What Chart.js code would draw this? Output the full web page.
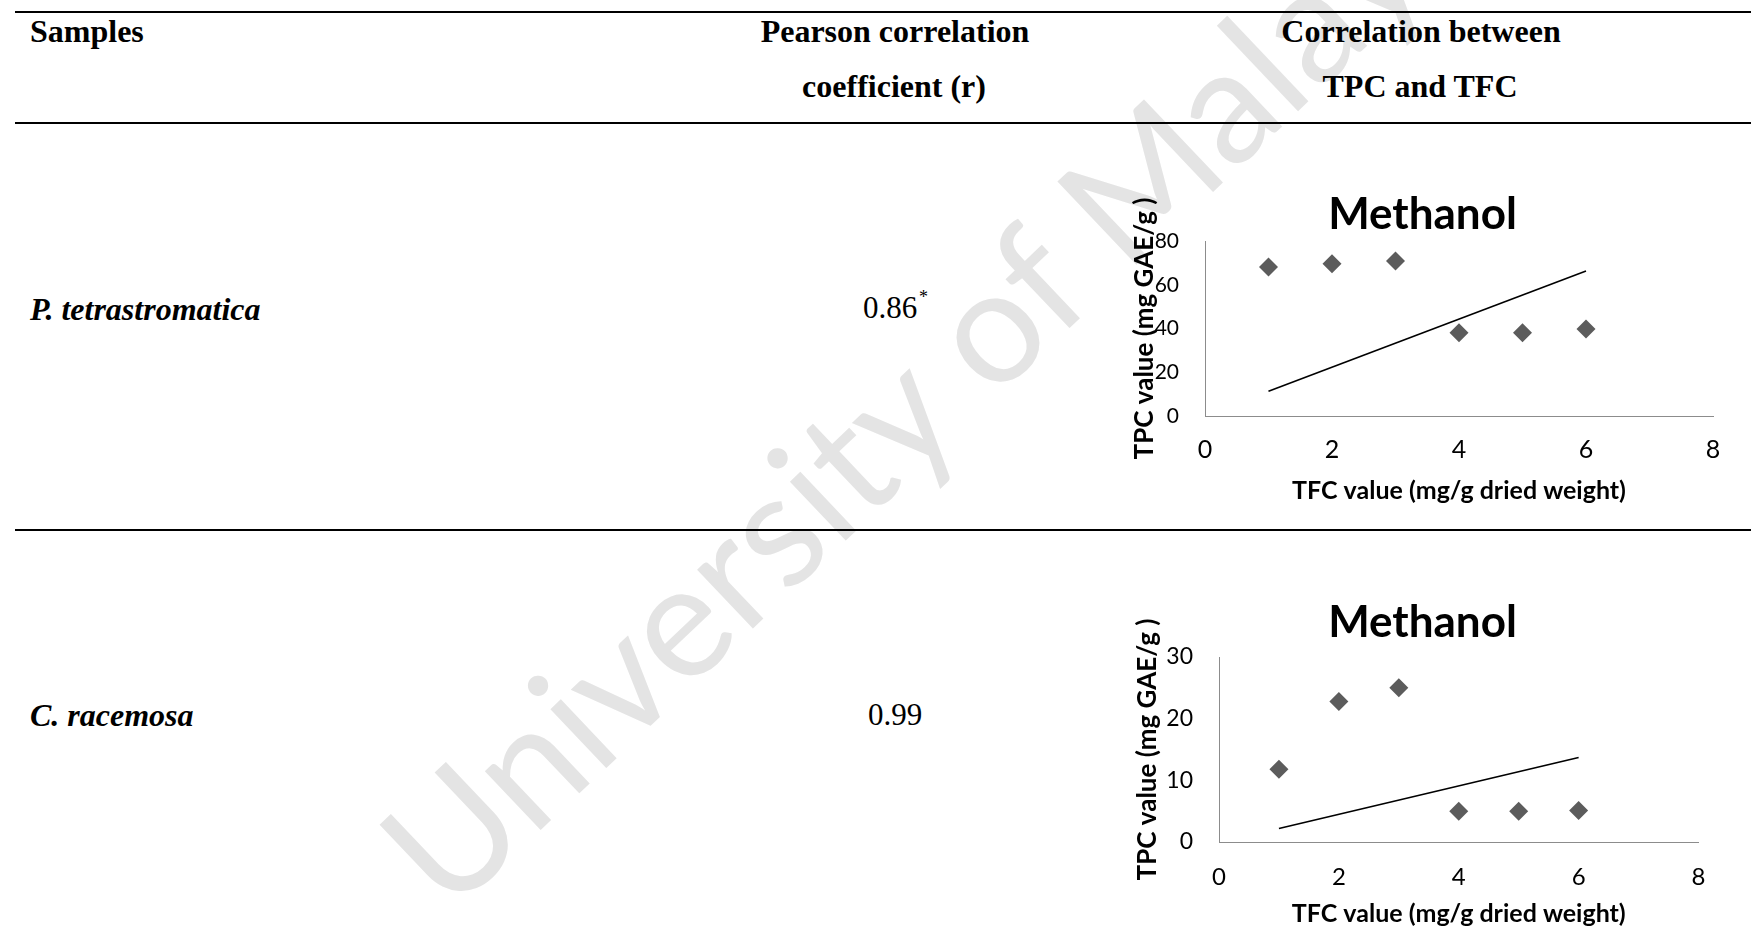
<!DOCTYPE html>
<html lang="en">

<head>
  <meta charset="UTF-8">
  <meta name="viewport" content="width=device-width, initial-scale=1.0">
  <title>Correlation between TPC and TFC</title>
  <script src="https://cdn.jsdelivr.net/npm/chart.js"></script>
  <style>
    html, body { margin: 0; padding: 0; background: #fff; }
    body {
      width: 1751px; height: 950px; position: relative; overflow: hidden;
      font-family: "Liberation Serif", "Times New Roman", serif; color: #000;
    }
    .marca { position: absolute; left: 0; top: 0; z-index: 0; }
    .regua { position: absolute; left: 15px; right: 0; height: 2px; background: #000; z-index: 1; }
    .celula { position: absolute; font-size: 32px; line-height: 1; white-space: nowrap; z-index: 1; }
    .cabecalho { font-weight: bold; }
    .centro { transform: translateX(-50%); }
    .amostra { left: 30px; font-weight: bold; font-style: italic; }
    .coef { font-size: 31px; }
    .asterisco { position: absolute; font-size: 18px; line-height: 1; z-index: 1; }
    .grafico { position: absolute; z-index: 2; }
  </style>
</head>

<body>

  <svg class="marca" width="1751" height="950">
    <text x="449" y="917" transform="rotate(-43.5 449 917)" font-family="Lato"
      font-size="160" fill="#e4e4e4">University of Malaya</text>
  </svg>

  <div class="regua" style="top:11px"></div>
  <div class="regua" style="top:122px"></div>
  <div class="regua" style="top:529px"></div>

  <div class="celula cabecalho" style="left:30px; top:15px">Samples</div>
  <div class="celula cabecalho centro" style="left:895px; top:15px">Pearson correlation</div>
  <div class="celula cabecalho centro" style="left:894px; top:70px">coefficient (r)</div>
  <div class="celula cabecalho centro" style="left:1421px; top:15px">Correlation between</div>
  <div class="celula cabecalho centro" style="left:1420px; top:70px">TPC and TFC</div>

  <div class="celula amostra" style="top:293px">P. tetrastromatica</div>
  <div class="celula coef" style="left:863px; top:292px">0.86</div>
  <div class="asterisco" style="left:919px; top:288px">*</div>

  <div class="celula amostra" style="top:699px">C. racemosa</div>
  <div class="celula coef" style="left:868px; top:699px">0.99</div>

  <canvas id="graficoTetra" class="grafico" width="608" height="318" style="left:1120px; top:190px"></canvas>
  <canvas id="graficoRace" class="grafico" width="594" height="333" style="left:1120px; top:598px"></canvas>

  <script>
    // valores de TFC (eixo x) comuns aos dois graficos
    const tfcValores = [1, 2, 3, 4, 5, 6];

    // P. tetrastromatica
    const tpcTetra = [68.1, 69.6, 70.9, 38.1, 38.1, 39.8];
    const tendenciaTetraX = [1, 6];
    const tendenciaTetraY = [11.3, 66.3];
    const ticksTetraY = [0, 20, 40, 60, 80];

    // C. racemosa
    const tpcRace = [11.8, 22.8, 25.0, 5.0, 5.0, 5.1];
    const tendenciaRaceX = [1, 6];
    const tendenciaRaceY = [2.2, 13.7];
    const ticksRaceY = [0, 10, 20, 30];

    const ticksX = [0, 2, 4, 6, 8];

    Chart.defaults.font.family = 'Lato';
    Chart.defaults.color = '#000';

    function pares(xs, ys) {
      return xs.map((x, i) => ({ x: x, y: ys[i] }));
    }

    function plotarGrafico(id, cfg) {
      const dados = {
        datasets: [
          {
            data: pares(tfcValores, cfg.tpc),
            pointStyle: 'rectRot',
            pointRadius: 9.5,
            backgroundColor: '#5c5c5c',
            borderColor: '#5c5c5c',
            borderWidth: 0
          },
          {
            data: pares(cfg.tendX, cfg.tendY),
            showLine: true,
            pointRadius: 0,
            borderColor: '#000',
            borderWidth: 1.6
          }
        ]
      };

      const config = {
        type: 'scatter',
        data: dados,
        options: {
          responsive: false,
          animation: false,
          events: [],
          layout: { padding: { left: cfg.padEsq, right: cfg.padDir, top: 0, bottom: 0 } },
          plugins: {
            legend: { display: false },
            tooltip: { enabled: false },
            title: {
              display: true,
              text: 'Methanol',
              color: '#000',
              font: { size: 44, weight: 'bold', lineHeight: 1 },
              padding: { top: 3, bottom: cfg.tituloBaixo }
            }
          },
          scales: {
            x: {
              type: 'linear',
              min: 0,
              max: 8,
              afterBuildTicks: (eixo) => { eixo.ticks = ticksX.map(v => ({ value: v })); },
              afterFit: (eixo) => { eixo.height = cfg.alturaX; eixo.paddingLeft = 0; eixo.paddingRight = 0; },
              grid: { display: false, drawTicks: false, tickLength: 0 },
              border: { display: true, color: '#8c8c8c', width: 1 },
              ticks: { padding: cfg.padTickX, font: { size: cfg.fonteTickX } },
              title: {
                display: true,
                text: 'TFC value (mg/g dried weight)',
                font: { size: 25, weight: 'bold' },
                padding: { top: 0, bottom: 2 }
              }
            },
            y: {
              type: 'linear',
              min: 0,
              max: cfg.maxY,
              afterBuildTicks: (eixo) => { eixo.ticks = cfg.ticksY.map(v => ({ value: v })); },
              afterFit: (eixo) => { eixo.width = cfg.larguraY; eixo.paddingTop = 0; eixo.paddingBottom = 0; },
              grid: { display: false, drawTicks: false, tickLength: 0 },
              border: { display: true, color: '#8c8c8c', width: 1 },
              ticks: { padding: cfg.padTickY, font: { size: cfg.fonteTickY } },
              title: {
                display: true,
                text: 'TPC value (mg GAE/g )',
                font: { size: 26, weight: 'bold' },
                padding: { top: cfg.padTituloY, bottom: 0 }
              }
            }
          }
        }
      };

      return new Chart(document.getElementById(id), config);
    }

    plotarGrafico('graficoTetra', {
      tpc: tpcTetra, tendX: tendenciaTetraX, tendY: tendenciaTetraY,
      maxY: 80, ticksY: ticksTetraY,
      padEsq: 12, padDir: 15, larguraY: 73, alturaX: 92, tituloBaixo: 4,
      padTickX: 19, fonteTickX: 25, padTickY: 26, fonteTickY: 21, padTituloY: -3
    });

    plotarGrafico('graficoRace', {
      tpc: tpcRace, tendX: tendenciaRaceX, tendY: tendenciaRaceY,
      maxY: 30, ticksY: ticksRaceY,
      padEsq: 26.5, padDir: 15.5, larguraY: 72.5, alturaX: 89, tituloBaixo: 12,
      padTickX: 21, fonteTickX: 24, padTickY: 26, fonteTickY: 23, padTituloY: -14.4
    });
  </script>

</body>

</html>
